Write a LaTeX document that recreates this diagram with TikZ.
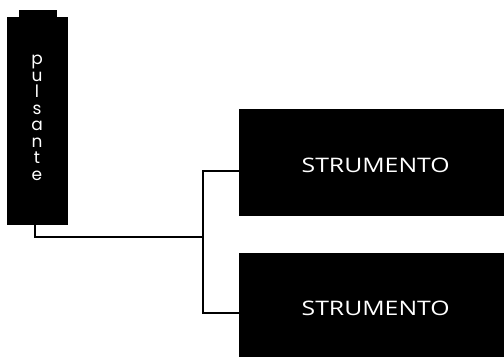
\documentclass[tikz,border=0pt]{standalone}
\usepackage{fontspec}
\setmainfont{Open Sans}
\newfontfamily\geo{Poppins}
\begin{document}
\begin{tikzpicture}[x=1pt,y=-1pt,
  blk/.style={fill=black,draw=none},
  wire/.style={draw=black,line width=2.5pt},
  lbl/.style={text=white,font=\fontsize{20}{20}\selectfont,xscale=1.24},
]
\useasboundingbox (0,0) rectangle (504,357);
\fill[blk] (19,10) rectangle (57,17);
\node[blk,minimum width=61pt,minimum height=208pt,inner sep=0pt,anchor=north west] (p) at (7,17) {};
\node[text=white,font=\geo\fontsize{17}{16.5}\selectfont,align=center] (pt) at (37,118) {p\\u\\l\\s\\a\\n\\t\\e};
\node[blk,minimum width=265pt,minimum height=107pt,inner sep=0pt,anchor=north west] (s1) at (239,109) {};
\node[blk,minimum width=265pt,minimum height=104pt,inner sep=0pt,anchor=north west] (s2) at (239,253) {};
\node[lbl] at ([xshift=4pt,yshift=-3pt]s1.center) {STRUMENTO};
\node[lbl] at ([xshift=4pt,yshift=-3pt]s2.center) {STRUMENTO};
\coordinate (j) at (203,237);
\coordinate (pb) at (35,225);
\draw[wire] (pb) |- (j);
\draw[wire] (s1.west |- 0,171) -| (j) |- (s2.west |- 0,313);
\end{tikzpicture}
\end{document}
